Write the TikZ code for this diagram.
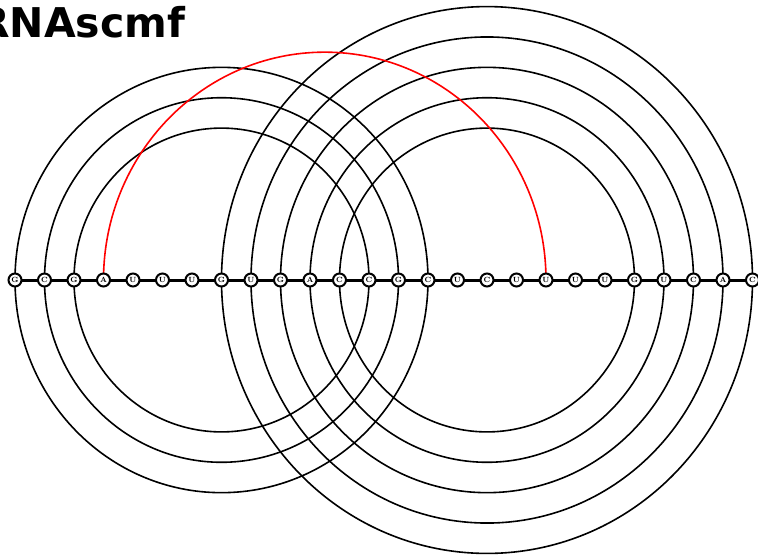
\documentclass[tikz,border=0pt]{standalone}
\usepackage{fontspec}
\newfontfamily\titlefont{DejaVu Sans}
\usetikzlibrary{backgrounds}
\begin{document}
\begin{tikzpicture}[x=1pt,y=-1pt,
  nt/.style={circle,draw=black,line width=2pt,fill=white,minimum size=13pt,inner sep=0pt,
             font=\fontsize{7.5}{7.5}\selectfont\bfseries},
  pairline/.style={draw=black,line width=1.6pt},
  redline/.style={draw=red,line width=1.6pt},
  backbone/.style={draw=black,line width=3pt}]
\useasboundingbox (0,0) rectangle (758,558);
\node[anchor=base west,inner sep=0pt,font=\titlefont\bfseries\fontsize{41}{41}\selectfont] (title) at (-22,37) {RNAscmf};
\foreach \l [count=\i] in {G,C,G,A,U,U,U,G,U,G,A,C,C,G,C,U,C,U,U,U,U,G,U,C,A,C}
  \node[nt] (n\i) at ({15+(\i-1)*29.5},280) {\l};
\begin{scope}[on background layer]
  \foreach \a/\b in {1/15,2/14,3/13,8/26,9/25,10/24,11/23,12/22}{
    \pgfmathsetmacro\rx{(\b-\a)*14.75}
    \pgfmathsetmacro\ry{(\b-\a)*15.19}
    \draw[pairline] (n\a.center) arc[start angle=180, delta angle=360, x radius=\rx pt, y radius=\ry pt];
  }
  \pgfmathsetmacro\rx{15*14.75}
  \pgfmathsetmacro\ry{15*15.19}
  \draw[redline] (n4.center) arc[start angle=180, end angle=0, x radius=\rx pt, y radius=\ry pt];
  \draw[backbone] (n1.center) -- (n26.center);
\end{scope}
\end{tikzpicture}
\end{document}
